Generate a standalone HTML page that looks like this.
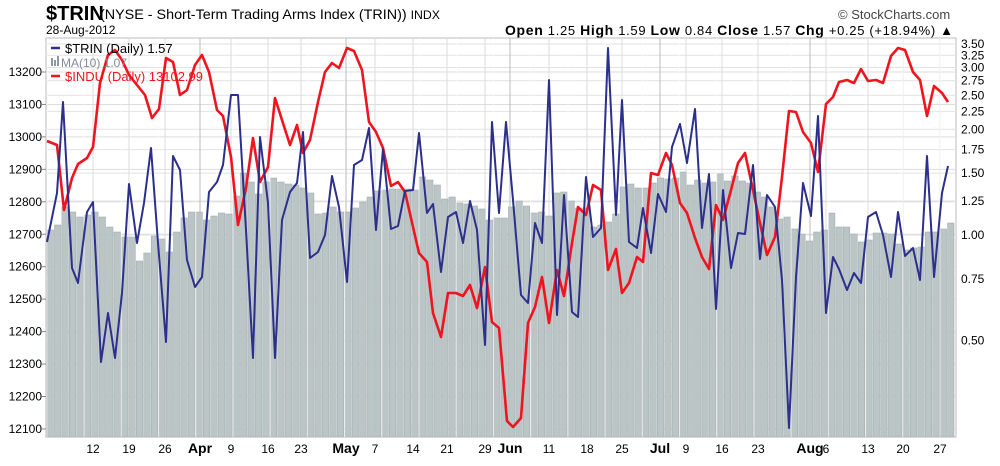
<!DOCTYPE html>
<html><head><meta charset="utf-8">
<style>
body{margin:0;background:#fff;width:1000px;height:461px;overflow:hidden;font-family:"Liberation Sans",Arial,sans-serif}
svg text{font-family:"Liberation Sans",Arial,sans-serif}
</style></head><body>
<svg id="s" width="1000" height="461" xmlns="http://www.w3.org/2000/svg">
<text x="46" y="20" font-size="20" font-weight="bold" fill="#000">$TRIN</text>
<text x="100" y="19" font-size="14" fill="#000" textLength="340" lengthAdjust="spacingAndGlyphs">(NYSE - Short-Term Trading Arms Index (TRIN))  <tspan font-size="12">INDX</tspan></text>
<text x="46" y="34" font-size="12" fill="#000">28-Aug-2012</text>
<text x="838" y="19" font-size="13" fill="#444">© StockCharts.com</text>
<text x="505" y="35" font-size="13" fill="#000" textLength="448" lengthAdjust="spacing"><tspan font-weight="bold" font-size="14">Open</tspan> 1.25  <tspan font-weight="bold" font-size="14">High</tspan> 1.59  <tspan font-weight="bold" font-size="14">Low</tspan> 0.84  <tspan font-weight="bold" font-size="14">Close</tspan> 1.57  <tspan font-weight="bold" font-size="14">Chg</tspan> +0.25 (+18.94%) ▲</text>
<g id="g"></g>
</svg>
<script>
const NS="http://www.w3.org/2000/svg",g=document.getElementById('g');
function el(t,a,txt){const e=document.createElementNS(NS,t);for(const k in a)e.setAttribute(k,a[k]);if(txt!==undefined)e.textContent=txt;g.appendChild(e);return e;}
const L=46,T=38,R=956,B=437;
el('rect',{x:L,y:T,width:R-L,height:B-T,fill:'#fff',stroke:'#bbb'});
for(let v=12100;v<=13200;v+=100){const y=72+(13200-v)/100*32.45;el('line',{x1:L,x2:R,y1:y,y2:y,stroke:'#ddd'});
 el('text',{x:42,y:y+4,'font-size':12,'text-anchor':'end',fill:'#000'},String(v));el('line',{x1:L-4,x2:L,y1:y,y2:y,stroke:'#888'});}
const rv=[3.5,3.25,3,2.75,2.5,2.25,2,1.75,1.5,1.25,1,0.75,0.5];
rv.forEach(v=>{const y=235-152.5*Math.log(v);el('line',{x1:L,x2:R,y1:y,y2:y,stroke:'#e2e2e2'});
 el('text',{x:961,y:y+4,'font-size':12,fill:'#000'},v.toFixed(2));});
const xl=[[93,'12'],[129,'19'],[165,'26'],[200,'Apr',1],[231,'9'],[268,'16'],[301,'23'],[346,'May',1],[375,'7'],[413,'14'],[447,'21'],[485,'29'],[510,'Jun',1],[549,'11'],[587,'18'],[622,'25'],[660,'Jul',1],[686,'9'],[722,'16'],[758,'23'],[810,'Aug',1],[826,'6'],[868,'13'],[903,'20'],[940,'27']];
xl.forEach(a=>{el('line',{x1:a[0],x2:a[0],y1:T,y2:B,stroke:a[2]?'#bbb':'#ddd'});
 el('text',{x:a[0],y:453,'font-size':a[2]?14:12,'font-weight':a[2]?'bold':'normal','text-anchor':'middle',fill:'#000'},a[1]);});
const bt=[230,225,207,212,217,215,212,217,227,232,237,237,261,253,236,239,252,232,218,212,212,220,216,213,214,196,173,182,194,182,178,182,
184,185,188,193,214,213,207,212,212,208,202,197,191,190,189,189,189,190,177,180,185,199,197,203,204,206,209,220,218,218,207,
201,206,213,212,216,193,192,201,208,208,227,225,222,214,187,184,188,188,183,178,179,178,172,185,180,183,182,174,181,176,181,183,
192,197,207,219,217,229,234,241,232,230,213,227,227,234,242,240,233,233,234,244,250,248,247,232,232,229,223];
const n=bt.length,bw=(R-L-2)/n;
bt.forEach((y,i)=>{el('rect',{x:L+1+i*bw,y:y,width:bw-1,height:B-y,fill:'#bcc5c6',stroke:'#a4b0b6','stroke-width':0.6});});
for(let i=0;i<n;i+=5){el('line',{x1:L+1+i*bw,x2:L+1+i*bw,y1:T,y2:B,stroke:'#fff','stroke-width':0.8,opacity:0.7});}
const red="47,141 57,145 64,210 72,178 78,164 87,158 93,147 100,83 108,55 115,50 122,60 129,75 137,85 145,95 152,118 159,109 166,58 173,62 180,95 187,90 195,65 202,55 209,72 217,110 223,116 231,157 238,225 246,188 253,138 260,182 268,167 275,98 282,120 290,145 297,125 303,153 310,140 318,102 325,72 332,63 339,68 347,48 354,51 362,70 369,122 376,132 383,148 391,186 398,182 405,192 413,227 419,253 427,262 433,313 441,337 448,293 456,293 463,296 470,285 477,308 485,267 492,322 499,328 507,421 513,427 521,418 528,323 535,307 542,277 549,323 557,270 564,296 572,243 578,207 586,215 593,185 601,190 608,270 616,249 622,293 629,283 637,257 643,262 651,173 658,175 666,153 672,165 680,203 687,213 695,238 702,257 709,269 716,205 723,220 731,190 738,163 745,153 753,190 760,223 767,255 775,237 782,177 789,111 796,112 803,132 811,143 818,172 826,104 833,97 839,82 847,80 854,83 861,69 868,81 876,80 883,83 891,56 898,48 905,50 913,72 920,80 927,116 934,86 942,93 948,102";
const blue="47,242 57,193 63,102 72,268 78,283 87,212 93,202 101,362 108,313 115,358 122,293 129,184 137,243 144,203 151,148 158,243 166,342 173,156 180,170 187,260 195,287 202,277 209,192 217,182 223,165 231,95 238,95 246,230 253,358 260,137 268,203 275,358 282,220 290,192 297,183 303,132 310,258 318,252 325,235 332,176 339,207 347,282 354,165 362,160 369,128 376,230 383,149 391,229 398,226 405,191 413,190 419,133 427,213 433,204 441,272 448,217 456,212 463,243 470,201 477,230 485,345 492,122 499,213 506,122 513,200 521,295 528,303 535,223 542,243 549,80 557,315 564,195 572,312 578,317 586,177 593,237 601,228 608,48 616,215 622,100 629,242 637,248 643,208 651,253 658,194 666,212 672,147 680,124 687,163 695,109 702,228 709,174 716,309 723,190 731,268 738,233 745,234 753,165 760,259 767,195 775,207 782,280 789,428 796,277 803,183 811,216 818,116 826,313 833,257 839,269 847,290 854,273 861,283 868,217 876,212 883,235 891,277 898,212 905,256 913,248 920,280 927,156 934,277 942,193 948,166";
el('polyline',{points:red,fill:'none',stroke:'#f0141e','stroke-width':2.6,'stroke-linejoin':'round'});
el('polyline',{points:blue,fill:'none',stroke:'#2c2f8c','stroke-width':2,'stroke-linejoin':'round'});
el('line',{x1:51,x2:60,y1:48,y2:48,stroke:'#2c2f8c','stroke-width':2.5});
el('text',{x:65,y:53,'font-size':13,fill:'#000'},'$TRIN (Daily) 1.57');
el('rect',{x:51,y:58,width:2,height:8,fill:'#8d9aa5'});el('rect',{x:54,y:60,width:2,height:6,fill:'#8d9aa5'});el('rect',{x:57,y:56,width:2,height:10,fill:'#8d9aa5'});
el('text',{x:61,y:67,'font-size':12,fill:'#7f8c99'},'MA(10) 1.07');
el('line',{x1:51,x2:60,y1:76,y2:76,stroke:'#f0141e','stroke-width':2.5});
el('text',{x:65,y:81,'font-size':13,fill:'#f0141e'},'$INDU (Daily) 13102.99');
</script>
</body></html>
